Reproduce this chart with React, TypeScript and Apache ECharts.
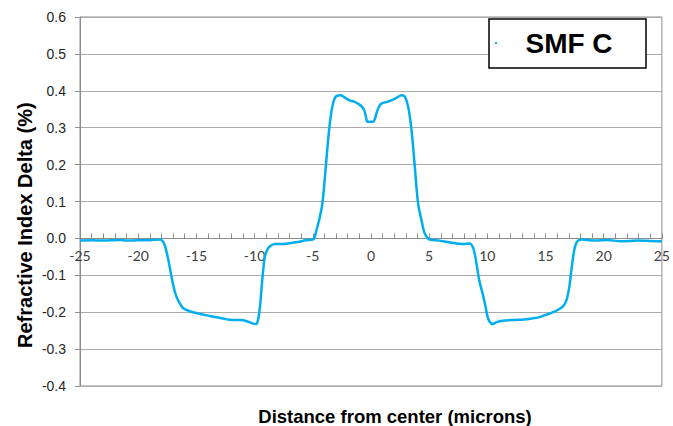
import React, { useEffect, useRef } from "react";
import * as echarts from "echarts";

const distance: number[] = [
  -25, -24, -23, -22.4, -21.5, -21, -20, -19, -18.2, -18.0, -17.7, -17.4, -17.1, -16.8, -16.5, -16.1,
  -15.5, -14.9, -14.2, -13.4, -12.6, -11.9, -11.2, -10.6, -10.1, -9.85, -9.7, -9.55, -9.44, -9.3,
  -9.12, -8.9, -8.7, -8.3, -7.4, -7.0, -6.3, -5.6, -5.0, -4.87, -4.7, -4.45, -4.17, -3.88, -3.6,
  -3.32, -3.03, -2.6, -2.2, -1.9, -1.4, -1.05, -0.8, -0.57, -0.4, -0.3, 0.2, 0.35, 0.51, 0.7, 0.94,
  1.4, 1.79, 2.2, 2.64, 2.92, 3.2, 3.49, 3.77, 4.05, 4.34, 4.55, 4.76, 5.04, 5.9, 7.0, 7.9, 8.45,
  8.8, 9.07, 9.3, 9.6, 9.85, 10.0, 10.2, 10.46, 10.8, 11.27, 12.37, 13.1, 13.84, 14.4, 14.95, 15.5,
  16.05, 16.5, 16.8, 17.05, 17.25, 17.45, 17.65, 17.85, 18.1, 19.2, 20.3, 21.5, 22.9, 24, 25,
];

const delta: number[] = [
  -0.006, -0.005, -0.006, -0.005, -0.004, -0.006, -0.005, -0.005, -0.003, -0.004, -0.02, -0.06,
  -0.11, -0.15, -0.172, -0.19, -0.198, -0.203, -0.208, -0.213, -0.218, -0.221, -0.221, -0.225,
  -0.231, -0.232, -0.221, -0.19, -0.15, -0.1, -0.05, -0.03, -0.022, -0.015, -0.015, -0.013, -0.01,
  -0.005, -0.003, 0.0, 0.02, 0.05, 0.095, 0.194, 0.293, 0.357, 0.384, 0.388, 0.381, 0.375, 0.37,
  0.364, 0.358, 0.347, 0.325, 0.316, 0.316, 0.325, 0.343, 0.358, 0.366, 0.37, 0.375, 0.381, 0.388,
  0.384, 0.357, 0.293, 0.194, 0.095, 0.05, 0.02, 0.006, -0.003, -0.006, -0.012, -0.015, -0.014,
  -0.027, -0.068, -0.113, -0.15, -0.185, -0.21, -0.226, -0.232, -0.227, -0.223, -0.221, -0.22,
  -0.217, -0.214, -0.208, -0.202, -0.194, -0.184, -0.168, -0.13, -0.08, -0.035, -0.012, -0.005,
  -0.003, -0.006, -0.004, -0.008, -0.006, -0.007, -0.008,
];

const seriesName = "SMF C";
const xTitle = "Distance from center (microns)";
const yTitle = "Refractive Index Delta (%)";

const Y_MIN = -0.4;
const Y_MAX = 0.6;
const GRID_TOP = 17;
const GRID_BOTTOM = 40;
const H = 426;

export default function App() {
  const ref = useRef<HTMLDivElement>(null);
  useEffect(() => {
    if (!ref.current) return;
    const chart = echarts.init(ref.current, null, { renderer: "svg" });
    const data = distance.map((d, i) => [d, delta[i]]);
    const plotH = H - GRID_TOP - GRID_BOTTOM;
    const zeroOffset = -(plotH * (0 - Y_MIN)) / (Y_MAX - Y_MIN);
    chart.setOption({
      animation: false,
      backgroundColor: "#ffffff",
      grid: {
        left: 80,
        right: 5,
        top: GRID_TOP,
        bottom: GRID_BOTTOM,
        containLabel: false,
        show: true,
        borderColor: "#8c8c8c",
        borderWidth: 1,
        backgroundColor: "transparent",
      },
      xAxis: {
        type: "value",
        min: -25,
        max: 25,
        interval: 5,
        position: "bottom",
        offset: zeroOffset,
        axisLine: { show: true, onZero: false, lineStyle: { color: "#8c8c8c", width: 1 } },
        axisTick: { show: true, inside: true, length: 5, lineStyle: { color: "#8c8c8c" } },
        minorTick: { show: true, splitNumber: 5, length: 5, lineStyle: { color: "#8c8c8c" } },
        splitLine: { show: false },
        axisLabel: {
          color: "#404040",
          fontFamily: "Lato, Open Sans, sans-serif",
          fontSize: 14,
          margin: 10,
          showMinLabel: true,
          showMaxLabel: true,
        },
      },
      yAxis: {
        type: "value",
        min: Y_MIN,
        max: Y_MAX,
        interval: 0.1,
        axisLine: { show: true, onZero: false, lineStyle: { color: "#8c8c8c" } },
        axisTick: { show: true, inside: false, length: 5, lineStyle: { color: "#8c8c8c" } },
        splitLine: { show: true, lineStyle: { color: "#ababab", width: 1 } },
        axisLabel: {
          color: "#262626",
          fontFamily: "Liberation Sans, Arial, sans-serif",
          fontSize: 14,
          margin: 14,
          formatter: (v: number) => v.toFixed(1),
        },
      },
      series: [
        {
          name: seriesName,
          type: "line",
          data,
          smooth: 0.3,
          showSymbol: false,
          lineStyle: { color: "#00AEEF", width: 2.5 },
          itemStyle: { color: "#00AEEF" },
        },
      ],
      graphic: [
        {
          type: "text",
          x: 25,
          y: 348,
          rotation: Math.PI / 2,
          style: {
            text: yTitle,
            fill: "#000",
            fontFamily: "Liberation Sans, Arial, sans-serif",
            fontWeight: "bold",
            fontSize: 20,
            align: "left",
            verticalAlign: "middle",
          },
        },
        {
          type: "text",
          x: 395,
          y: 416,
          style: {
            text: xTitle,
            fill: "#000",
            fontFamily: "Liberation Sans, Arial, sans-serif",
            fontWeight: "bold",
            fontSize: 18.5,
            align: "center",
            verticalAlign: "middle",
          },
        },
        {
          type: "rect",
          shape: { x: 489, y: 19, width: 157, height: 49 },
          style: { fill: "#ffffff", stroke: "#000", lineWidth: 1.5 },
          z: 10,
        },
        {
          type: "line",
          shape: { x1: 495, y1: 43, x2: 497, y2: 43 },
          style: { stroke: "#00AEEF", lineWidth: 2 },
          z: 11,
        },
        {
          type: "text",
          x: 569,
          y: 43,
          style: {
            text: seriesName,
            fill: "#000",
            fontFamily: "Liberation Sans, Arial, sans-serif",
            fontWeight: "bold",
            fontSize: 28,
            align: "center",
            verticalAlign: "middle",
          },
          z: 11,
        },
      ],
    });
    return () => chart.dispose();
  }, []);
  return <div ref={ref} style={{ width: 673, height: 426, position: "absolute", left: 0, top: 0 }} />;
}
